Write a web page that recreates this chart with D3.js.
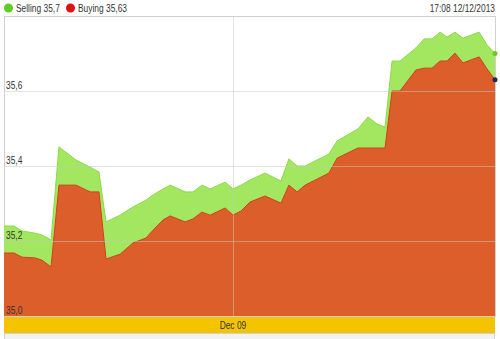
<!DOCTYPE html>
<html>
<head>
<meta charset="utf-8">
<script src="https://cdn.jsdelivr.net/npm/d3@7"></script>
<style>
  html, body { margin: 0; padding: 0; background: #fff; }
  svg { display: block; font-family: "Liberation Sans", Arial, sans-serif; }
</style>
</head>
<body>
<svg id="chart" width="500" height="339"></svg>
<script>
// Exchange rate quotes, hours elapsed since the first quote
const startTime = new Date(2013, 11, 5, 18, 8);
const endTime = new Date(2013, 11, 12, 17, 8);
const hours = [0, 3.4, 6.1, 10.5, 12.9, 16, 18.7, 24.5, 29.3, 32.3, 34.7, 39.5, 43.9, 48.3,
  50.7, 54.1, 56.5, 61.6, 64.3, 67.3, 70.1, 75.2, 77.9, 80.6, 83.7, 88.8, 94.2, 96.9, 99.7,
  102.4, 110.5, 113.3, 120.4, 123.8, 126.9, 129.6, 132, 134.7, 140.1, 142.9, 145.6, 148.3,
  150.7, 153.4, 156.1, 161.6, 164.3, 167];
const selling = [35.240, 35.240, 35.227, 35.221, 35.216, 35.203, 35.451, 35.416, 35.397, 35.384,
  35.251, 35.269, 35.291, 35.309, 35.323, 35.339, 35.349, 35.331, 35.331, 35.349, 35.339, 35.357,
  35.339, 35.349, 35.363, 35.381, 35.360, 35.419, 35.400, 35.400, 35.432, 35.467, 35.499, 35.531,
  35.512, 35.504, 35.680, 35.680, 35.715, 35.739, 35.739, 35.757, 35.744, 35.757, 35.741, 35.757,
  35.723, 35.70];
const buying = [35.168, 35.168, 35.157, 35.155, 35.149, 35.131, 35.349, 35.349, 35.331, 35.331,
  35.152, 35.165, 35.195, 35.208, 35.229, 35.256, 35.267, 35.251, 35.259, 35.277, 35.269, 35.288,
  35.269, 35.280, 35.304, 35.320, 35.301, 35.349, 35.331, 35.349, 35.381, 35.421, 35.448, 35.448,
  35.448, 35.448, 35.600, 35.600, 35.656, 35.661, 35.661, 35.680, 35.680, 35.701, 35.675, 35.691,
  35.659, 35.63];
const yTicks = [35.0, 35.2, 35.4, 35.6];
const xTicks = [new Date(2013, 11, 9)];
const lastSelling = 35.7;
const lastBuying = 35.63;
const stamp = "17:08 12/12/2013";

const fmtComma = v => d3.format(".1f")(v).replace(".", ",");
const fmtComma2 = v => String(v).replace(".", ",");

// Condensed labels: regular glyphs squeezed horizontally
const SQUEEZE = 0.84;
function label(sel, px, py) {
  return sel.attr("transform", `translate(${px},${py}) scale(${SQUEEZE},1)`)
    .attr("font-size", 10).attr("fill", "#333");
}

const svg = d3.select("#chart");
const plot = { left: 4, right: 495, top: 16, bottom: 316 };

const x = d3.scaleTime().domain([startTime, endTime]).range([plot.left, plot.right]);
const y = d3.scaleLinear().domain([35.0, 35.8]).range([plot.bottom, plot.top]);

const data = hours.map((h, i) => ({
  t: new Date(startTime.getTime() + h * 3600000),
  s: selling[i],
  b: buying[i]
}));

// Legend
svg.append("circle").attr("cx", 8.5).attr("cy", 8).attr("r", 4.5).attr("fill", "#5fcf1f");
label(svg.append("text"), 16, 12).text("Selling " + fmtComma2(lastSelling));
svg.append("circle").attr("cx", 70.5).attr("cy", 8).attr("r", 4.5).attr("fill", "#e01010");
label(svg.append("text"), 78, 12).text("Buying " + fmtComma2(lastBuying));
label(svg.append("text"), 495, 12).attr("text-anchor", "end").text(stamp);

// Plot frame
svg.append("rect").attr("x", plot.left + 0.5).attr("y", plot.top + 0.5)
  .attr("width", plot.right - plot.left).attr("height", plot.bottom - plot.top)
  .attr("fill", "#fff").attr("stroke", "#d0d0d0");

// Areas
const areaS = d3.area().x(d => x(d.t)).y0(y(35.0)).y1(d => y(d.s));
const areaB = d3.area().x(d => x(d.t)).y0(y(35.0)).y1(d => y(d.b));
const lineS = d3.line().x(d => x(d.t)).y(d => y(d.s));
const lineB = d3.line().x(d => x(d.t)).y(d => y(d.b));

svg.append("path").datum(data).attr("d", areaS).attr("fill", "#a3e65f");
svg.append("path").datum(data).attr("d", lineS).attr("fill", "none")
  .attr("stroke", "#8cd94a").attr("stroke-width", 1);
svg.append("path").datum(data).attr("d", areaB).attr("fill", "#dc5e2a");
svg.append("path").datum(data).attr("d", lineB).attr("fill", "none")
  .attr("stroke", "#d2401a").attr("stroke-width", 1);

// Grid lines
const grid = svg.append("g");
grid.selectAll("line.h").data(yTicks.filter(v => v > 35.0)).join("line")
  .attr("x1", plot.left).attr("x2", plot.right)
  .attr("y1", d => y(d) + 0.5).attr("y2", d => y(d) + 0.5)
  .attr("stroke", "#c8c8c8").attr("stroke-opacity", 0.5);
grid.selectAll("line.v").data(xTicks).join("line")
  .attr("x1", d => Math.round(x(d)) + 0.5).attr("x2", d => Math.round(x(d)) + 0.5)
  .attr("y1", plot.top).attr("y2", plot.bottom)
  .attr("stroke", "#c8c8c8").attr("stroke-opacity", 0.5);

// Y labels
svg.append("g").selectAll("text").data(yTicks).join("text")
  .each(function (d) { label(d3.select(this), 6, y(d) - 2); })
  .text(d => fmtComma(d));

// End markers
const last = data[data.length - 1];
svg.append("circle").attr("cx", x(last.t)).attr("cy", y(lastSelling)).attr("r", 2.5).attr("fill", "#66cc22");
svg.append("circle").attr("cx", x(last.t)).attr("cy", y(lastBuying)).attr("r", 2.5).attr("fill", "#1a2a5a");

// Date band
svg.append("rect").attr("x", plot.left).attr("y", 317).attr("width", plot.right - plot.left)
  .attr("height", 16).attr("fill", "#f5c400");
svg.append("g").selectAll("text").data(xTicks).join("text")
  .each(function (d) { label(d3.select(this), x(d), 329); })
  .attr("text-anchor", "middle")
  .text(d3.timeFormat("%b %d"));

// Navigator strip
svg.append("rect").attr("x", plot.left + 0.5).attr("y", 333.5).attr("width", plot.right - plot.left - 1)
  .attr("height", 8).attr("fill", "#f2f2f2").attr("stroke", "#d0d0d0");
</script>
</body>
</html>
